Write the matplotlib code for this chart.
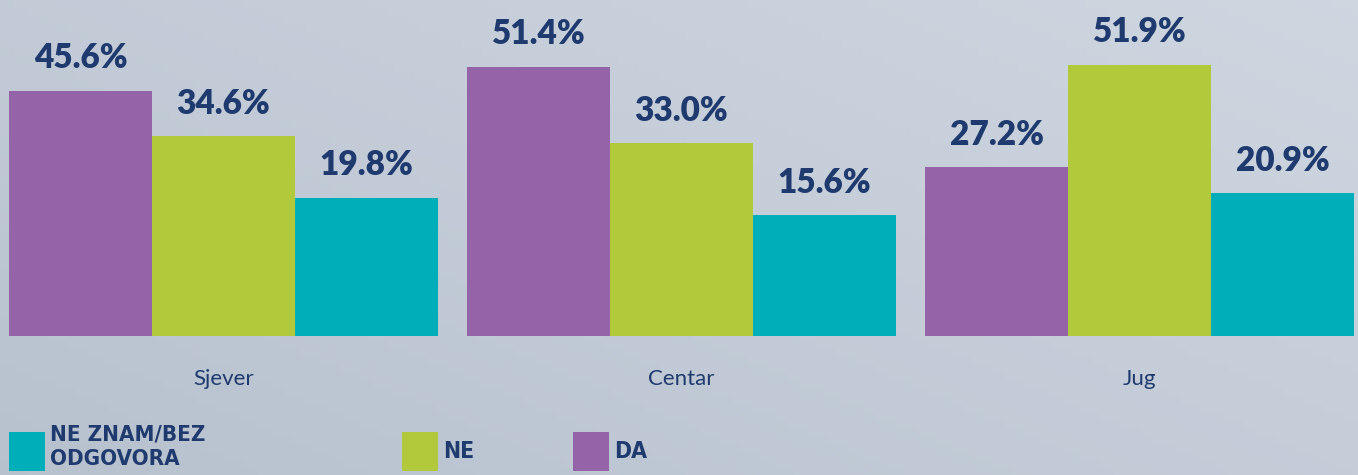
import numpy as np
import matplotlib.pyplot as plt
from matplotlib.patches import Rectangle

# data
regions = ['Sjever', 'Centar', 'Jug']
series = ['DA', 'NE', 'NE ZNAM/BEZ\nODGOVORA']
da = [45.6, 51.4, 27.2]
ne = [34.6, 33.0, 51.9]
ne_znam = [19.8, 15.6, 20.9]

colors = {'DA': '#9564a8', 'NE': '#b1c93b', 'NE ZNAM/BEZ\nODGOVORA': '#00aeba'}
navy = '#1f3a6e'

W, H = 1358, 475
fig = plt.figure(figsize=(W / 100, H / 100), dpi=100)

# background gradient
bg = fig.add_axes([0, 0, 1, 1])
gx = np.linspace(0, 1, 200)
gy = np.linspace(0, 1, 60)
X, Y = np.meshgrid(gx, gy)
t = 0.55 * X + 0.45 * Y
c0 = np.array([0.72, 0.76, 0.81])
c1 = np.array([0.81, 0.84, 0.88])
img = c0[None, None, :] * (1 - t[..., None]) + c1[None, None, :] * t[..., None]
bg.imshow(img, origin='lower', aspect='auto', extent=[0, 1, 0, 1])
bg.axis('off')

# main axes: bars from pixel y=336 up to top
ax = fig.add_axes([0, (H - 336) / H, 1, 336 / H])
ax.patch.set_alpha(0)
ymin, ymax = -13.5, 67.5
ax.set_ylim(ymin, ymax)
ax.set_xlim(-223.5 / 458, (W - 223.5) / 458)

x = np.arange(len(regions))
bw = 143 / 458
for i, name in enumerate(series):
    vals = np.array([da, ne, ne_znam][i])
    xs = x + (i - 1) * bw
    ax.bar(xs, vals - ymin, bottom=ymin, width=bw, color=colors[name], linewidth=0)
    for xi, v in zip(xs, vals):
        ax.text(xi, v + 4.0, f'{v:.1f}%', ha='center', va='bottom', fontsize=24,
                fontweight='heavy', family='Lato', color=navy)

ax.axis('off')
for xi, r in zip(x, regions):
    ax.text(xi, ymin - 10.3, r, ha='center', va='center', fontsize=16,
            family='Lato', fontweight='normal', color=navy, clip_on=False)

# legend drawn by hand
leg = [('NE ZNAM/BEZ\nODGOVORA', 9, 50), ('NE', 402, 443), ('DA', 573, 614)]
for name, px, tx in leg:
    fig.patches.append(Rectangle((px / W, (H - 471) / H), 36 / W, 39 / H,
                                 transform=fig.transFigure, color=colors[name], linewidth=0))
    if '\n' in name:
        fig.text(tx / W, (H - 425) / H, name, ha='left', va='top', fontsize=16,
                 fontweight='bold', fontstretch='condensed', family='DejaVu Sans',
                 color=navy, linespacing=1.25)
    else:
        fig.text(tx / W, (H - 452) / H, name, ha='left', va='center', fontsize=16.5,
                 fontweight='bold', fontstretch='condensed', family='DejaVu Sans',
                 color=navy)

fig.savefig('out.png', dpi=100)
